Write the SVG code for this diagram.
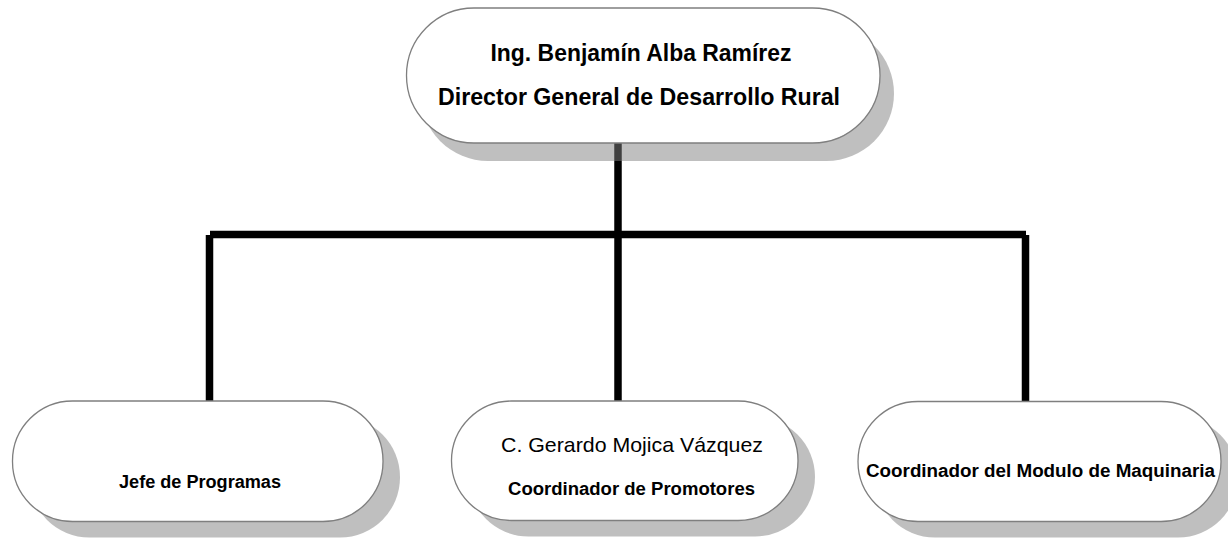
<svg xmlns="http://www.w3.org/2000/svg" width="1228" height="539" viewBox="0 0 1228 539">
<style>
.bg{fill:#ffffff}
.line{stroke:#000000;stroke-width:7.5;fill:none;stroke-linecap:butt}
.shadow{fill:#808080;fill-opacity:0.5}
.box{fill:#ffffff;stroke:#7f7f7f;stroke-width:1.3}
.tb{font-family:"Liberation Sans",Arial,sans-serif;font-weight:bold;fill:#000000;text-anchor:middle}
.tr{font-family:"Liberation Sans",Arial,sans-serif;font-weight:normal;fill:#000000;text-anchor:middle}
</style>
<rect class="bg" x="0" y="0" width="1228" height="539"/>
<g id="connectors">
<line class="line" x1="618" y1="143" x2="618" y2="401"/>
<line class="line" x1="210" y1="234.5" x2="1026" y2="234.5"/>
<line class="line" x1="209.5" y1="235" x2="209.5" y2="401"/>
<line class="line" x1="1025.5" y1="235" x2="1025.5" y2="401"/>
</g>
<g id="node-director">
<rect class="shadow" x="420.5" y="26" width="473.5" height="135" rx="67.5" ry="67.5"/>
<rect class="box" x="406.5" y="8" width="473.5" height="135" rx="67.5" ry="67.5"/>
<text class="tb" x="641" y="61" font-size="23" textLength="301" lengthAdjust="spacingAndGlyphs">Ing. Benjamín Alba Ramírez</text>
<text class="tb" x="639" y="105" font-size="23" textLength="402" lengthAdjust="spacingAndGlyphs">Director General de Desarrollo Rural</text>
</g>
<g id="node-jefe">
<rect class="shadow" x="29.5" y="417" width="370.5" height="120.5" rx="60" ry="60"/>
<rect class="box" x="12.5" y="401" width="370.5" height="120.5" rx="60" ry="60"/>
<text class="tb" x="200" y="488" font-size="18" textLength="162" lengthAdjust="spacingAndGlyphs">Jefe de Programas</text>
</g>
<g id="node-promotores">
<rect class="shadow" x="468.5" y="417" width="346.5" height="119.5" rx="60" ry="60"/>
<rect class="box" x="451.5" y="401" width="346.5" height="119.5" rx="60" ry="60"/>
<text class="tr" x="632" y="452" font-size="21" textLength="262" lengthAdjust="spacingAndGlyphs">C. Gerardo Mojica Vázquez</text>
<text class="tb" x="631.5" y="495" font-size="18" textLength="247" lengthAdjust="spacingAndGlyphs">Coordinador de Promotores</text>
</g>
<g id="node-maquinaria">
<rect class="shadow" x="875" y="417.5" width="363" height="120" rx="60" ry="60"/>
<rect class="box" x="858" y="401.5" width="363" height="120" rx="60" ry="60"/>
<text class="tb" x="1040.5" y="477" font-size="18" textLength="349" lengthAdjust="spacingAndGlyphs">Coordinador del Modulo de Maquinaria</text>
</g>
</svg>
